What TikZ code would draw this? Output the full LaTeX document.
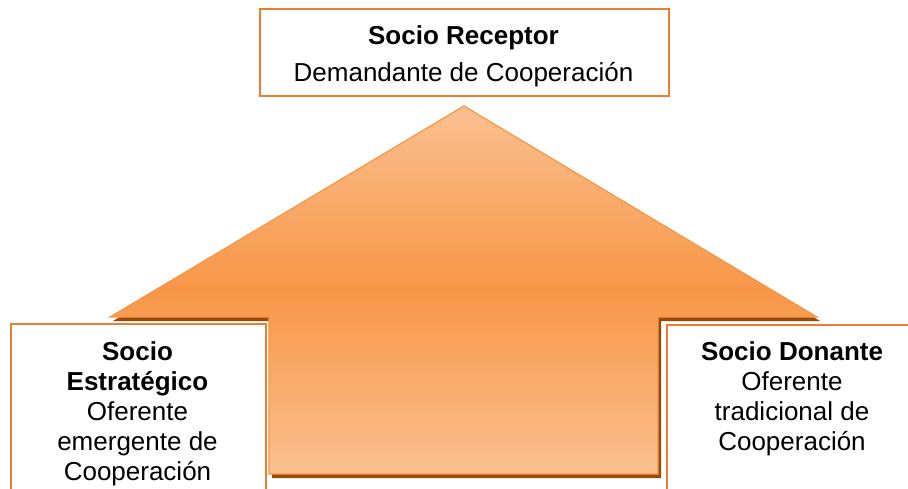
\documentclass[tikz,border=0pt]{standalone}
\usepackage{fontspec}
\setmainfont{Liberation Sans}
\definecolor{boxline}{HTML}{ED7D31}
\definecolor{arrowmid}{HTML}{F79646}
\definecolor{arrowlight}{HTML}{FAC090}
\definecolor{arrowedge}{HTML}{F79646}
\definecolor{shadowc}{HTML}{984807}
\tikzset{
  boxstyle/.style={draw=boxline, line width=2.4pt, fill=white, rectangle, inner sep=0pt},
  txt/.style={align=center, inner sep=0pt, font=\fontsize{26}{30}\selectfont, text=black},
}
\begin{document}
\begin{tikzpicture}[x=1pt,y=-1pt]
\useasboundingbox (0,0) rectangle (908,489);
\clip (0,0) rectangle (908,489);
% shadow of arrow
\fill[shadowc, shift={(3,4)}] (464,106) -- (817,317) -- (658,317) -- (658,474) -- (269,474) -- (269,317) -- (110,317) -- cycle;
% arrow
\path[draw=arrowedge, line width=1.2pt, top color=arrowlight, bottom color=arrowlight, middle color=arrowmid]
  (464,106) -- (817,317) -- (658,317) -- (658,474) -- (269,474) -- (269,317) -- (110,317) -- cycle;
% boxes
\node[boxstyle, minimum width=409pt, minimum height=87pt, anchor=north west] (top) at (259,8) {};
\node[boxstyle, minimum width=255pt, minimum height=200pt, anchor=north west] (left) at (10,323) {};
\node[boxstyle, minimum width=260pt, minimum height=200pt, anchor=north west] (right) at (666,324) {};
% texts (base anchor = baseline of last line)
\node[txt, anchor=base] (toptext) at (463.5,82) {\textbf{Socio Receptor}\\[7pt]Demandante de Cooperación};
\node[txt, anchor=base] (lefttext) at (137.5,480) {\textbf{Socio}\\\textbf{Estratégico}\\Oferente\\emergente de\\Cooperación};
\node[txt, anchor=base] (righttext) at (792,450) {\textbf{Socio Donante}\\Oferente\\tradicional de\\Cooperación};
\end{tikzpicture}
\end{document}
